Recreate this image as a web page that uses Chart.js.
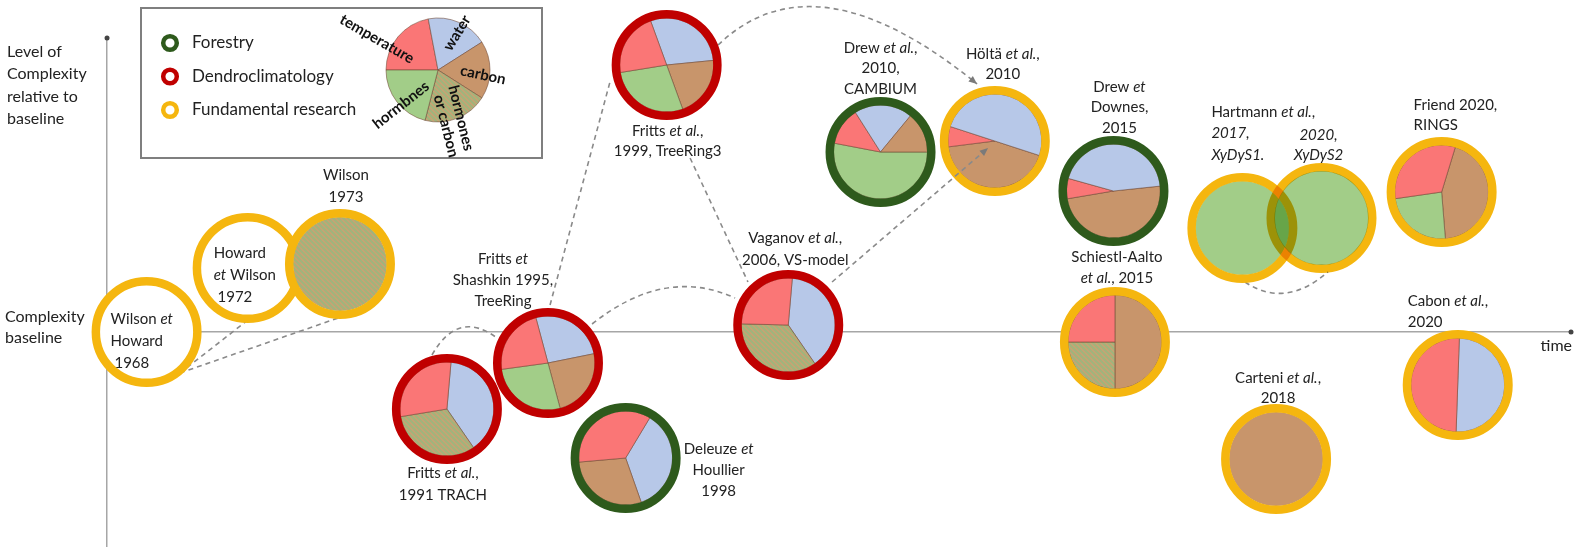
<!DOCTYPE html>
<html>
<head>
<meta charset="utf-8">
<script src="https://cdn.jsdelivr.net/npm/chart.js@4.4.0/dist/chart.umd.min.js"></script>
<style>
  html, body { margin: 0; padding: 0; background: #fff; }
</style>
</head>
<body>
<canvas id="c" width="1577" height="547"></canvas>
<script>
// Studies on the timeline (x = position in time, y = complexity relative to baseline)
const studies = [
  'Wilson et Howard 1968', 'Howard et Wilson 1972', 'Wilson 1973',
  'Fritts et al. 1991 TRACH', 'Fritts et Shashkin 1995 TreeRing', 'Deleuze et Houllier 1998',
  'Fritts et al. 1999 TreeRing3', 'Vaganov et al. 2006 VS-model', 'Drew et al. 2010 CAMBIUM',
  'Hölttä et al. 2010', 'Drew et Downes 2015', 'Schiestl-Aalto et al. 2015',
  'Hartmann et al. 2017 XyDyS1', 'Carteni et al. 2018', 'Hartmann et al. 2020 XyDyS2',
  'Friend 2020 RINGS', 'Cabon et al. 2020'
];
const timePos    = [2.7, 9.6, 15.9, 23.2, 30.1, 35.4, 38.2, 46.5, 52.8, 60.6, 68.7, 68.8, 77.5, 79.8, 82.9, 91.1, 92.2];
const complexity = [0, 1.28, 1.36, -1.54, -0.62, -2.52, 5.34, 0.14, 3.6, 3.82, 2.82, -0.2, 2.08, -2.54, 2.28, 2.8, -1.06];
const field      = ['fund', 'fund', 'fund', 'dendro', 'dendro', 'forest', 'dendro', 'dendro', 'forest',
                    'fund', 'forest', 'fund', 'fund', 'fund', 'fund', 'fund', 'fund'];

// processes represented in each model (pie slices, clockwise)
const sliceKeys = [
  [], [], ['hc'],
  ['water', 'hc', 'temp'],
  ['water', 'carbon', 'horm', 'temp'],
  ['water', 'carbon', 'temp'],
  ['water', 'carbon', 'horm', 'temp'],
  ['water', 'hc', 'temp'],
  ['horm', 'temp', 'water', 'carbon'],
  ['carbon', 'temp', 'water'],
  ['carbon', 'temp', 'water'],
  ['carbon', 'hc', 'temp'],
  ['horm'], ['carbon'], ['horm'],
  ['carbon', 'horm', 'temp'],
  ['water', 'temp']
];
const sliceShares = [
  [], [], [100],
  [39, 32, 29],
  [26, 24, 27, 23],
  [36, 29, 35],
  [29, 21, 28, 22],
  [39, 35, 26],
  [53, 13, 20, 14],
  [43, 7, 50],
  [49, 7, 44],
  [50, 25, 25],
  [100], [100], [100],
  [44, 24, 32],
  [50, 50]
];
const startDeg = [0, 0, 0, -85, -105, -59, -110, -85, 0, 18, -6, -90, 0, 0, 0, -73, -88];

// example pie in the legend
const legendKeys = ['temp', 'water', 'carbon', 'hc', 'horm'];
const legendShares = [22, 19, 18, 20, 21];
const fieldNames = ['Forestry', 'Dendroclimatology', 'Fundamental research'];

// labels (text between * is italic)
const labelLines = [
  ['Wilson *et*', 'Howard', ' 1968'],
  ['Howard', '*et* Wilson', ' 1972'],
  ['Wilson', '1973'],
  ['Fritts *et al.*,', '1991 TRACH'],
  ['Fritts *et*', 'Shashkin 1995,', 'TreeRing'],
  ['Deleuze *et*', 'Houllier', '1998'],
  ['Fritts *et al.*,', '1999, TreeRing3'],
  ['Vaganov *et al.*,', '2006, VS-model'],
  ['Drew *et al.*,', '2010,', 'CAMBIUM'],
  ['Höltä *et al.*,', '2010'],
  ['Drew *et*', 'Downes,', '2015'],
  ['Schiestl-Aalto', '*et al.*, 2015'],
  ['Hartmann *et al.*,', '*2017,*', '*XyDyS1.*'],
  ['Carteni *et al.*,', '2018'],
  ['*2020,*', '*XyDyS2*'],
  ['Friend 2020,', 'RINGS'],
  ['Cabon *et al.*,', '2020']
];
// [dx, dy of first line, line height, align]
const labelLayout = [
  [-36, -13, 22, 'left'], [-34, -15, 22, 'left'], [6, -89, 22, 'center'],
  [-4, 64, 22, 'center'], [-45, -104, 21, 'center'], [93, -9, 21, 'center'],
  [1, 66, 20, 'center'], [7, -87, 22, 'center'], [0, -104, 20.5, 'center'],
  [8, -87, 20, 'center'], [6, -104, 20.5, 'center'], [2, -85, 21, 'center'],
  [-31, -116, 21.5, 'left'], [2, -81, 20, 'center'], [-3, -83, 20, 'center'],
  [-28, -87, 20, 'left'], [-50, -84, 21, 'left']
];

// dashed links between models (data coordinates)
const links = [
  { from: [4.98, -0.82], to: [9.62, 0.24] },
  { from: [4.98, -0.82], to: [15.77, 0.28] },
  { from: [22.18, -0.46], via: [23.96, 0.46], to: [26.62, -0.12] },
  { from: [30.24, 0.54], to: [34.33, 5.0] },
  { from: [33.11, 0.16], via: [38.09, 1.32], to: [42.87, 0.68] },
  { from: [39.8, 3.48], to: [43.75, 1.0] },
  { from: [41.71, 5.74], via: [48.33, 7.6], to: [59.39, 4.96], arrow: true },
  { from: [49.49, 1.0], to: [60.14, 3.68], arrow: true, over: true },
  { from: [77.68, 1.0], via: [80.41, 0.46], to: [83.34, 1.2] }
];

const FONT = 'Lato, "Open Sans", sans-serif';
const ringColors = { forest: '#2e5a1c', dendro: '#c00000', fund: '#f5b60f' };
const sliceColors = { temp: '#fa7676', water: '#b7c8e8', carbon: '#c8956b', horm: '#a2cd88' };
const R = 55, W = 8.5;

function hatch(ctx) {
  const p = document.createElement('canvas');
  p.width = 5; p.height = 5;
  const g = p.getContext('2d');
  g.fillStyle = '#c8a373';
  g.fillRect(0, 0, 5, 5);
  g.strokeStyle = '#a0b47c';
  g.lineWidth = 2;
  g.beginPath();
  g.moveTo(0, 0); g.lineTo(5, 5);
  g.moveTo(-2.5, 2.5); g.lineTo(2.5, 7.5);
  g.moveTo(2.5, -2.5); g.lineTo(7.5, 2.5);
  g.stroke();
  return ctx.createPattern(p, 'repeat');
}

function drawPie(ctx, cx, cy, r, keys, shares, start, pat) {
  const total = shares.reduce((a, b) => a + b, 0);
  let a = start * Math.PI / 180;
  keys.forEach((k, j) => {
    const b = a + shares[j] / total * Math.PI * 2;
    ctx.beginPath();
    if (keys.length > 1) ctx.moveTo(cx, cy);
    ctx.arc(cx, cy, r, a, b);
    ctx.closePath();
    ctx.fillStyle = k === 'hc' ? pat : sliceColors[k];
    ctx.fill();
    if (keys.length > 1) {
      ctx.strokeStyle = 'rgba(110,70,50,0.55)';
      ctx.lineWidth = 1;
      ctx.stroke();
    }
    a = b;
  });
}

function richDraw(ctx, line, x, y, align, size, weight) {
  const segs = line.split('*');
  const fontOf = k => (k % 2 ? 'italic ' : '') + (weight || '') + ' ' + size + 'px ' + FONT;
  let w = 0;
  segs.forEach((s, k) => { ctx.font = fontOf(k); w += ctx.measureText(s).width; });
  let px = align === 'center' ? x - w / 2 : x;
  ctx.textAlign = 'left';
  ctx.textBaseline = 'middle';
  segs.forEach((s, k) => {
    ctx.font = fontOf(k);
    ctx.fillText(s, px, y);
    px += ctx.measureText(s).width;
  });
}

function drawLink(ctx, xs, ys, l) {
  const p0 = [xs.getPixelForValue(l.from[0]), ys.getPixelForValue(l.from[1])];
  const p1 = [xs.getPixelForValue(l.to[0]), ys.getPixelForValue(l.to[1])];
  ctx.save();
  ctx.strokeStyle = '#8a8a8a';
  ctx.lineWidth = 1.6;
  ctx.setLineDash([5, 4]);
  ctx.beginPath();
  ctx.moveTo(p0[0], p0[1]);
  let dir;
  if (l.via) {
    const c = [xs.getPixelForValue(l.via[0]), ys.getPixelForValue(l.via[1])];
    ctx.quadraticCurveTo(c[0], c[1], p1[0], p1[1]);
    dir = Math.atan2(p1[1] - c[1], p1[0] - c[0]);
  } else {
    ctx.lineTo(p1[0], p1[1]);
    dir = Math.atan2(p1[1] - p0[1], p1[0] - p0[0]);
  }
  ctx.stroke();
  if (l.arrow) {
    ctx.setLineDash([]);
    ctx.fillStyle = '#7a7a7a';
    ctx.beginPath();
    ctx.moveTo(p1[0], p1[1]);
    ctx.lineTo(p1[0] - 9 * Math.cos(dir - 0.4), p1[1] - 9 * Math.sin(dir - 0.4));
    ctx.lineTo(p1[0] - 9 * Math.cos(dir + 0.4), p1[1] - 9 * Math.sin(dir + 0.4));
    ctx.closePath();
    ctx.fill();
  }
  ctx.restore();
}

const diagram = {
  id: 'diagram',
  afterDatasetsDraw(chart) {
    const ctx = chart.ctx;
    const xs = chart.scales.x, ys = chart.scales.y;
    const pts = chart.getDatasetMeta(0).data;
    const pat = hatch(ctx);
    ctx.save();

    // axis end dots
    ctx.fillStyle = '#444';
    ctx.beginPath(); ctx.arc(xs.getPixelForValue(0), ys.top + 1, 2.5, 0, Math.PI * 2); ctx.fill();
    ctx.beginPath(); ctx.arc(xs.right - 1, ys.getPixelForValue(0), 2.5, 0, Math.PI * 2); ctx.fill();

    // axis texts
    ctx.fillStyle = '#222';
    ['Level of', 'Complexity', 'relative to', 'baseline'].forEach((t, k) => richDraw(ctx, t, 7, 52 + k * 22.3, 'left', 16));
    ['Complexity', 'baseline'].forEach((t, k) => richDraw(ctx, t, 5, 317 + k * 21, 'left', 16));
    ctx.textAlign = 'right'; ctx.textBaseline = 'middle';
    ctx.font = '16px ' + FONT;
    ctx.fillText('time', xs.right, ys.getPixelForValue(0) + 14);

    links.filter(l => !l.over).forEach(l => drawLink(ctx, xs, ys, l));

    // model discs (the 2020 XyDyS2 disc is blended over the 2017 one)
    pts.forEach((pt, i) => {
      const cx = pt.x, cy = pt.y;
      ctx.save();
      if (i === 14) ctx.globalCompositeOperation = 'multiply';
      if (sliceKeys[i].length === 0) {
        ctx.fillStyle = '#fff';
        ctx.beginPath(); ctx.arc(cx, cy, R - W / 2, 0, Math.PI * 2); ctx.fill();
      } else {
        drawPie(ctx, cx, cy, R - W + 0.5, sliceKeys[i], sliceShares[i], startDeg[i], pat);
      }
      ctx.strokeStyle = ringColors[field[i]];
      ctx.lineWidth = W;
      ctx.beginPath(); ctx.arc(cx, cy, R - W / 2, 0, Math.PI * 2); ctx.stroke();
      ctx.restore();
    });

    links.filter(l => l.over).forEach(l => drawLink(ctx, xs, ys, l));

    // labels
    ctx.fillStyle = '#222';
    pts.forEach((pt, i) => {
      const [dx, dy, lh, al] = labelLayout[i];
      labelLines[i].forEach((t, k) => richDraw(ctx, t, pt.x + dx, pt.y + dy + k * lh, al, 15));
    });

    // legend box
    ctx.fillStyle = '#fff';
    ctx.fillRect(141, 8, 401, 150);
    ctx.strokeStyle = '#7f7f7f';
    ctx.lineWidth = 2;
    ctx.strokeRect(141, 8, 401, 150);
    const lc = [ringColors.forest, ringColors.dendro, ringColors.fund];
    fieldNames.forEach((n, k) => {
      const y = 43 + k * 33.5;
      ctx.strokeStyle = lc[k];
      ctx.lineWidth = 4.5;
      ctx.beginPath(); ctx.arc(170, y, 6.8, 0, Math.PI * 2); ctx.stroke();
      ctx.fillStyle = '#222';
      richDraw(ctx, n, 192, y, 'left', 17);
    });
    drawPie(ctx, 438, 70, 52, legendKeys, legendShares, 180, pat);
    ctx.fillStyle = '#111';
    const rot = (t, x, y, deg) => {
      ctx.save();
      ctx.translate(x, y);
      ctx.rotate(deg * Math.PI / 180);
      richDraw(ctx, t, 0, 0, 'center', 15, 'bold');
      ctx.restore();
    };
    rot('temperature', 377, 39, 30);
    rot('water', 457, 33, -58);
    rot('carbon', 483, 75, 12);
    rot('hormones', 461, 118, 76);
    rot('or carbon', 446, 126, 76);
    rot('hormbnes', 401, 105, -38);

    ctx.restore();
  }
};

new Chart(document.getElementById('c'), {
  type: 'scatter',
  data: {
    datasets: [{
      label: 'models',
      data: studies.map((s, i) => ({ x: timePos[i], y: complexity[i] })),
      pointRadius: 0
    }]
  },
  options: {
    responsive: false,
    animation: false,
    events: [],
    layout: { padding: { left: 100, right: 5, top: 37, bottom: 0 } },
    plugins: { legend: { display: false }, tooltip: { enabled: false } },
    scales: {
      x: {
        type: 'linear', min: -0.48, max: 100, position: { y: 0 },
        grid: { display: false }, ticks: { display: false },
        border: { display: true, color: '#a6a6a6', width: 1.5 }
      },
      y: {
        type: 'linear', min: -4.3, max: 5.9, position: { x: 0 },
        grid: { display: false }, ticks: { display: false },
        border: { display: true, color: '#a6a6a6', width: 1.5 }
      }
    }
  },
  plugins: [diagram]
});
</script>
</body>
</html>
